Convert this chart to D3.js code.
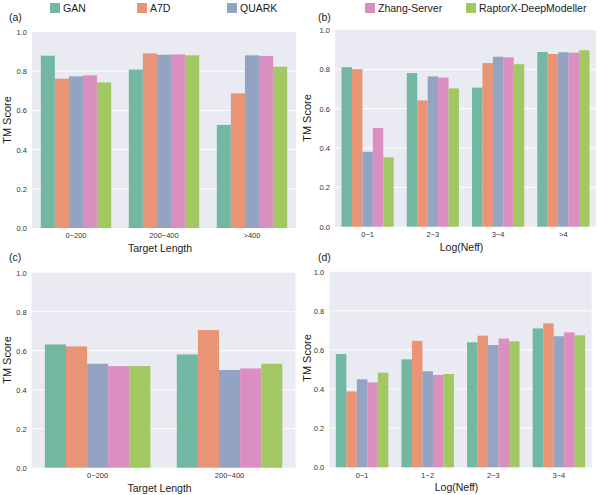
<!DOCTYPE html>
<html>
<head>
<meta charset="utf-8">
<script src="https://cdn.jsdelivr.net/npm/d3@7"></script>
<style>
  html, body { margin: 0; padding: 0; background: #fff; }
  svg { display: block; font-family: "Liberation Sans", Arial, sans-serif; }
</style>
</head>
<body>
<svg id="chart" width="600" height="495"></svg>
<script>
// ---- data ----
const methods = ["GAN", "A7D", "QUARK", "Zhang-Server", "RaptorX-DeepModeller"];
const colors = ["#72b7a1", "#e99575", "#95a3c3", "#db8fc1", "#a2c864"];
const yTicks = [0, 0.2, 0.4, 0.6, 0.8, 1.0];

const catsA = ["0~200", "200~400", ">400"];
const valsA = [
  [0.879, 0.808, 0.526],   // GAN
  [0.762, 0.891, 0.687],   // A7D
  [0.774, 0.884, 0.881],   // QUARK
  [0.779, 0.886, 0.878],   // Zhang-Server
  [0.743, 0.881, 0.823]    // RaptorX
];

const catsB = ["0~1", "2~3", "3~4", ">4"];
const valsB = [
  [0.811, 0.781, 0.707, 0.888],
  [0.801, 0.642, 0.832, 0.878],
  [0.381, 0.764, 0.864, 0.887],
  [0.502, 0.758, 0.861, 0.885],
  [0.353, 0.703, 0.826, 0.897]
];

const catsC = ["0~200", "200~400"];
const valsC = [
  [0.632, 0.581],
  [0.622, 0.706],
  [0.533, 0.501],
  [0.521, 0.509],
  [0.521, 0.533]
];

const catsD = ["0~1", "1~2", "2~3", "3~4"];
const valsD = [
  [0.579, 0.552, 0.639, 0.710],
  [0.388, 0.646, 0.673, 0.736],
  [0.450, 0.491, 0.625, 0.670],
  [0.434, 0.472, 0.658, 0.690],
  [0.484, 0.477, 0.644, 0.675]
];

const svg = d3.select("#chart");

function drawPanel(cfg) {
  const { cats, vals, x0, x1, y0, y1, xTitle, label, labelX, labelY, yTitleX, yTitleY } = cfg;
  const g = svg.append("g");
  const x = d3.scaleBand().domain(cats).range([x0, x1]).paddingInner(0).paddingOuter(0);
  const y = d3.scaleLinear().domain([0, 1]).range([y1, y0]);
  const inner = d3.scaleBand().domain(d3.range(methods.length))
    .range([0, x.bandwidth() * 0.8]).padding(0);

  g.append("rect").attr("x", x0).attr("y", y0)
    .attr("width", x1 - x0).attr("height", y1 - y0).attr("fill", "#eaeaf2");

  g.selectAll("line.grid").data(yTicks.slice(1, -1)).enter().append("line")
    .attr("x1", x0).attr("x2", x1)
    .attr("y1", d => y(d)).attr("y2", d => y(d))
    .attr("stroke", "#ffffff").attr("stroke-width", 1);

  methods.forEach((m, mi) => {
    g.selectAll(null).data(cats).enter().append("rect")
      .attr("x", c => x(c) + x.bandwidth() * 0.1 + inner(mi))
      .attr("width", inner.bandwidth())
      .attr("y", (c, ci) => y(vals[mi][ci]))
      .attr("height", (c, ci) => y(0) - y(vals[mi][ci]))
      .attr("fill", colors[mi]);
  });

  // y axis
  const ya = d3.axisLeft(y).tickValues(yTicks).tickFormat(d3.format(".1f")).tickSize(0).tickPadding(5);
  const yg = g.append("g").attr("transform", `translate(${x0},0)`).call(ya);
  yg.select(".domain").remove();
  yg.selectAll("text").attr("font-size", 7.5).attr("fill", "#333").attr("font-family", "Liberation Sans, Arial, sans-serif");

  // x axis
  const xa = d3.axisBottom(x).tickSize(0).tickPadding(5);
  const xg = g.append("g").attr("transform", `translate(0,${y1})`).call(xa);
  xg.select(".domain").remove();
  xg.selectAll("text").attr("font-size", 7.5).attr("fill", "#333").attr("font-family", "Liberation Sans, Arial, sans-serif");

  g.append("text").attr("x", (x0 + x1) / 2 - 4).attr("y", y1 + 24)
    .attr("text-anchor", "middle").attr("font-size", 10.5).attr("fill", "#1a1a1a").text(xTitle);

  g.append("text").attr("transform", `translate(${yTitleX},${yTitleY}) rotate(-90)`)
    .attr("text-anchor", "middle").attr("font-size", 11).attr("fill", "#1a1a1a").text("TM Score");

  g.append("text").attr("x", labelX).attr("y", labelY)
    .attr("font-size", 10.5).attr("fill", "#1a1a1a").text(label);
}

drawPanel({ cats: catsA, vals: valsA, x0: 32, x1: 296, y0: 32, y1: 228,
  xTitle: "Target Length", label: "(a)", labelX: 9, labelY: 21, yTitleX: 11, yTitleY: 120 });
drawPanel({ cats: catsB, vals: valsB, x0: 335, x1: 596, y0: 30, y1: 226.7,
  xTitle: "Log(Neff)", label: "(b)", labelX: 318, labelY: 21, yTitleX: 311, yTitleY: 118 });
drawPanel({ cats: catsC, vals: valsC, x0: 31.7, x1: 295.5, y0: 272.7, y1: 467.7,
  xTitle: "Target Length", label: "(c)", labelX: 9, labelY: 261, yTitleX: 11, yTitleY: 360 });
drawPanel({ cats: catsD, vals: valsD, x0: 329.3, x1: 591.7, y0: 271.7, y1: 467.3,
  xTitle: "Log(Neff)", label: "(d)", labelX: 318, labelY: 261, yTitleX: 311, yTitleY: 358 });

// legend
const legendX = [50, 137, 227, 365, 466];
const lg = svg.append("g");
methods.forEach((m, i) => {
  lg.append("rect").attr("x", legendX[i]).attr("y", 3).attr("width", 10).attr("height", 10).attr("fill", colors[i]);
  lg.append("text").attr("x", legendX[i] + 13).attr("y", 12).attr("font-size", 10.5).attr("fill", "#1a1a1a").text(m);
});
</script>
</body>
</html>
